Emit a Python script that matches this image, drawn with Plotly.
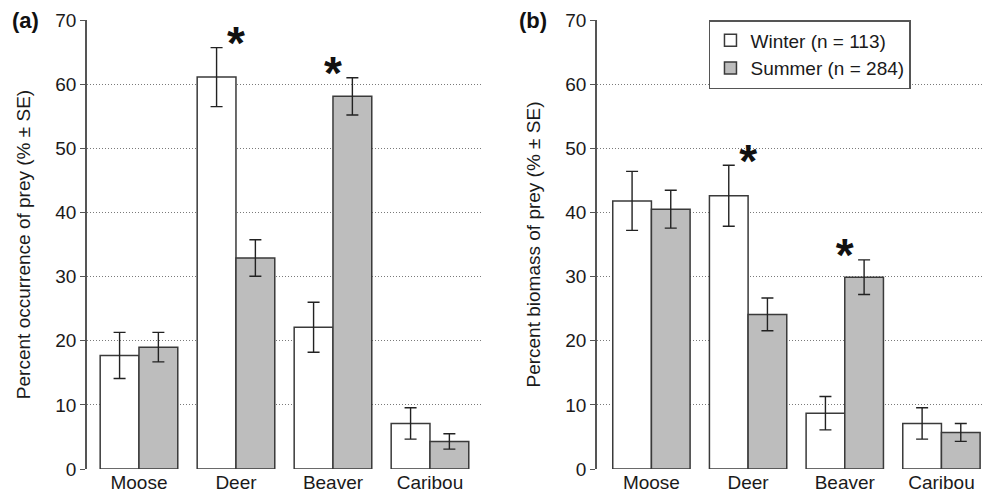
import plotly.graph_objects as go

categories = ["Moose", "Deer", "Beaver", "Caribou"]

# Panel (a): percent occurrence of prey
occ_winter = [17.7, 61.1, 22.1, 7.1]
occ_winter_se = [3.6, 4.6, 3.9, 2.45]
occ_summer = [19.0, 32.9, 58.1, 4.3]
occ_summer_se = [2.3, 2.85, 2.9, 1.2]

# Panel (b): percent biomass of prey
bio_winter = [41.8, 42.6, 8.7, 7.1]
bio_winter_se = [4.6, 4.75, 2.6, 2.45]
bio_summer = [40.5, 24.1, 29.9, 5.7]
bio_summer_se = [2.95, 2.55, 2.7, 1.4]

significant = ["Deer", "Beaver"]

winter_name = "Winter (n = 113)"
summer_name = "Summer (n = 284)"

FONT = "Liberation Sans, Arial, sans-serif"
WHITE = "#ffffff"
GRAY = "#bdbdbd"
EDGE = "#3a3a3a"

fig = go.Figure()


def add_panel(xa, ya, w, wse, s, sse, showleg):
    fig.add_trace(go.Bar(
        x=categories, y=w, name=winter_name, xaxis=xa, yaxis=ya,
        marker=dict(color=WHITE, line=dict(color=EDGE, width=1.5)),
        error_y=dict(type="data", array=wse, color="#222222", thickness=1.4, width=6),
        showlegend=showleg, legendgroup="w", offsetgroup="w",
    ))
    fig.add_trace(go.Bar(
        x=categories, y=s, name=summer_name, xaxis=xa, yaxis=ya,
        marker=dict(color=GRAY, line=dict(color=EDGE, width=1.5)),
        error_y=dict(type="data", array=sse, color="#222222", thickness=1.4, width=6),
        showlegend=showleg, legendgroup="s", offsetgroup="s",
    ))
    sx, sy = [], []
    for i, c in enumerate(categories):
        if c in significant:
            sx.append(c)
            sy.append(max(w[i] + wse[i], s[i] + sse[i]))
    fig.add_trace(go.Scatter(
        x=sx, y=sy, mode="text", text=["*"] * len(sx), xaxis=xa, yaxis=ya,
        textposition="middle center",
        textfont=dict(size=46, family=FONT, color="#111111", weight="bold"),
        showlegend=False, hoverinfo="skip", cliponaxis=False,
    ))


add_panel("x", "y", occ_winter, occ_winter_se, occ_summer, occ_summer_se, False)
add_panel("x2", "y2", bio_winter, bio_winter_se, bio_summer, bio_summer_se, True)

yax = dict(
    range=[0, 70], dtick=10, showgrid=True, gridcolor="#7a7a7a", griddash="1px,2px",
    gridwidth=1, zeroline=False, showline=True, linecolor="#555555", linewidth=1.5,
    ticks="outside", ticklen=5, tickcolor="#555555", tickwidth=1.2,
    tickfont=dict(size=19, family=FONT, color="#1a1a1a"),
    title_font=dict(size=19, family=FONT, color="#1a1a1a"), title_standoff=20,
    automargin=False,
)
xax = dict(
    showgrid=False, zeroline=False, showline=False, ticks="",
    tickfont=dict(size=19, family=FONT, color="#1a1a1a"),
    automargin=False,
)

fig.update_layout(
    width=984, height=498,
    margin=dict(l=0, r=0, t=20, b=29, autoexpand=False),
    paper_bgcolor="white", plot_bgcolor="white",
    barmode="group", bargap=0.2, bargroupgap=0,
    font=dict(family=FONT),
    xaxis=dict(xax, domain=[0.0884, 0.4898], range=[-0.536, 3.536], anchor="y"),
    yaxis=dict(yax, domain=[0, 1], anchor="x",
               title_text="Percent occurrence of prey (% ± SE)"),
    xaxis2=dict(xax, domain=[0.6067, 0.999], range=[-0.563, 3.43], anchor="y2"),
    yaxis2=dict(yax, domain=[0, 1], anchor="x2",
                title_text="Percent biomass of prey (% ± SE)"),
    legend=dict(
        x=0.7205, y=1.0, xanchor="left", yanchor="top",
        bgcolor="white", bordercolor="#555555", borderwidth=1.5,
        font=dict(size=19, family=FONT, color="#1a1a1a"),
        traceorder="normal", entrywidth=220, entrywidthmode="pixels",
    ),
    annotations=[
        dict(text="<b>(a)</b>", x=0.01, y=1.0, xref="paper", yref="paper",
             xanchor="left", yanchor="middle", showarrow=False,
             font=dict(size=22, family=FONT, color="#111111")),
        dict(text="<b>(b)</b>", x=0.525, y=1.0, xref="paper", yref="paper",
             xanchor="left", yanchor="middle", showarrow=False,
             font=dict(size=22, family=FONT, color="#111111")),
    ],
)

fig.write_html("out.html", config={"displayModeBar": False},
               post_script="document.body.style.margin='0';")
